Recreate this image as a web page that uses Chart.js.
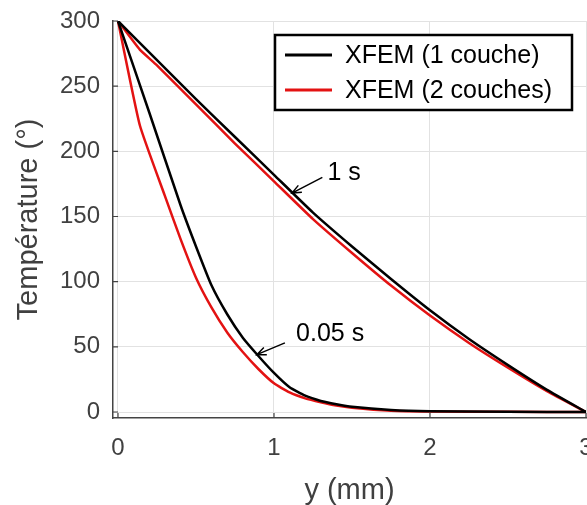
<!DOCTYPE html>
<html>
<head>
<meta charset="utf-8">
<script src="https://cdn.jsdelivr.net/npm/chart.js@4"></script>
<style>
  html, body { margin: 0; padding: 0; background: #fff; overflow: hidden; }
  #wrap { width: 587px; height: 505px; }
</style>
</head>
<body>
<div id="wrap"><canvas id="chart"></canvas></div>
<script>
// y (mm) positions and temperatures
const x1sBlack = [0, 0.25, 0.5, 0.75, 1.0, 1.25, 1.5, 1.75, 2.0, 2.25, 2.5, 2.75, 3];
const t1sBlack = [300, 270, 240, 211, 182, 153, 127, 102, 78, 56, 36, 17, 0];
const x1sRed = [0, 0.14, 0.25, 0.5, 0.75, 1.0, 1.25, 1.5, 1.75, 2.0, 2.25, 2.5, 2.75, 3];
const t1sRed = [300, 278, 266, 236, 206, 177, 148, 122, 97, 74, 53, 34, 16, 0];
const x005Black = [0, 0.2, 0.4, 0.5, 0.6, 0.7, 0.8, 0.9, 1.0, 1.1, 1.2, 1.3, 1.4, 1.5, 1.75, 2.0, 2.5, 3];
const t005Black = [300, 230, 159, 127, 97, 75, 57, 43, 30, 19, 12.5, 8.5, 6, 4, 1.6, 0.6, 0.1, 0];
const x005Red = [0, 0.14, 0.3, 0.4, 0.5, 0.6, 0.7, 0.8, 0.9, 1.0, 1.1, 1.2, 1.3, 1.4, 1.5, 1.75, 2.0, 2.5, 3];
const t005Red = [300, 220, 166, 133, 103, 80, 61, 46, 33, 22, 15, 10.5, 7.5, 5, 3.3, 1, 0.4, 0.1, 0];

const xTicks = [0, 1, 2, 3];
const yTicks = [0, 50, 100, 150, 200, 250, 300];
const seriesNames = ["XFEM (1 couche)", "XFEM (2 couches)"];
const seriesColors = ["#000000", "#e31212"];

const FONT = "'Liberation Sans', Arial, sans-serif";

function pts(xs, ys) {
  return xs.map((x, i) => ({ x: x, y: ys[i] }));
}

function line(label, data, color) {
  return {
    label: label,
    data: data,
    borderColor: color,
    borderWidth: 2.5,
    pointRadius: 0,
    fill: false,
    tension: 0.15
  };
}

// annotations: label text, label position, arrow tail, arrow tip (data coords)
const notes = [
  { text: "1 s", at: [1.45, 183], from: [1.31, 180], to: [1.115, 168] },
  { text: "0.05 s", at: [1.36, 60], from: [1.07, 53], to: [0.89, 44] }
];

const extras = {
  id: "extras",
  afterDraw(chart) {
    const ctx = chart.ctx;
    const xs = chart.scales.x, ys = chart.scales.y;
    const area = chart.chartArea;
    ctx.save();

    // inward tick marks
    ctx.strokeStyle = "#444";
    ctx.lineWidth = 1.2;
    ctx.beginPath();
    xTicks.forEach(v => {
      const px = xs.getPixelForValue(v);
      ctx.moveTo(px, area.bottom);
      ctx.lineTo(px, area.bottom - 5);
    });
    yTicks.forEach(v => {
      const py = ys.getPixelForValue(v);
      ctx.moveTo(area.left, py);
      ctx.lineTo(area.left + 5, py);
    });
    ctx.stroke();

    ctx.font = "25px " + FONT;
    ctx.fillStyle = "#000";
    ctx.strokeStyle = "#000";
    ctx.lineWidth = 1.5;
    ctx.textAlign = "center";
    ctx.textBaseline = "middle";
    notes.forEach(n => {
      ctx.fillText(n.text, xs.getPixelForValue(n.at[0]), ys.getPixelForValue(n.at[1]));
      const x0 = xs.getPixelForValue(n.from[0]), y0 = ys.getPixelForValue(n.from[1]);
      const x1 = xs.getPixelForValue(n.to[0]), y1 = ys.getPixelForValue(n.to[1]);
      ctx.beginPath();
      ctx.moveTo(x0, y0);
      ctx.lineTo(x1, y1);
      const a = Math.atan2(y1 - y0, x1 - x0);
      const h = 10;
      ctx.moveTo(x1 - h * Math.cos(a - 0.4), y1 - h * Math.sin(a - 0.4));
      ctx.lineTo(x1, y1);
      ctx.lineTo(x1 - h * Math.cos(a + 0.4), y1 - h * Math.sin(a + 0.4));
      ctx.stroke();
    });

    // legend box
    const bx = 275, by = 35, bw = 297, bh = 75;
    ctx.fillStyle = "#fff";
    ctx.fillRect(bx, by, bw, bh);
    ctx.strokeStyle = "#000";
    ctx.lineWidth = 2.5;
    ctx.strokeRect(bx, by, bw, bh);
    ctx.textAlign = "left";
    seriesNames.forEach((name, i) => {
      const yy = by + 20 + i * 35;
      ctx.strokeStyle = seriesColors[i];
      ctx.lineWidth = 3;
      ctx.beginPath();
      ctx.moveTo(285, yy);
      ctx.lineTo(332, yy);
      ctx.stroke();
      ctx.fillStyle = "#000";
      ctx.fillText(name, 345, yy + 1);
    });
    ctx.restore();
  }
};

new Chart(document.getElementById("chart"), {
  type: "line",
  data: {
    datasets: [
      line(seriesNames[0], pts(x1sBlack, t1sBlack), seriesColors[0]),
      line(seriesNames[0], pts(x005Black, t005Black), seriesColors[0]),
      line(seriesNames[1], pts(x1sRed, t1sRed), seriesColors[1]),
      line(seriesNames[1], pts(x005Red, t005Red), seriesColors[1])
    ]
  },
  options: {
    responsive: true,
    maintainAspectRatio: false,
    animation: false,
    layout: { padding: { top: 21, right: 1, left: 0, bottom: 0 } },
    plugins: { legend: { display: false }, tooltip: { enabled: false } },
    scales: {
      x: {
        type: "linear",
        min: -0.032,
        max: 3,
        afterBuildTicks: s => { s.ticks = xTicks.map(v => ({ value: v })); },
        afterFit: s => { s.height = 87; s.paddingLeft = 0; s.paddingRight = 0; },
        grid: { color: "#e2e2e2", lineWidth: 1, drawTicks: false },
        border: { color: "#444", width: 1.5 },
        ticks: { font: { family: FONT, size: 24 }, color: "#404040", padding: 16, maxRotation: 0 },
        title: { display: true, text: "y (mm)", font: { family: FONT, size: 29, lineHeight: 1 }, color: "#404040", padding: { top: 0, bottom: 0 } }
      },
      y: {
        min: -4.6,
        max: 300,
        afterBuildTicks: s => { s.ticks = yTicks.map(v => ({ value: v })); },
        afterFit: s => { s.width = 113; s.paddingTop = 0; s.paddingBottom = 0; },
        grid: { color: "#e2e2e2", lineWidth: 1, drawTicks: false },
        border: { color: "#444", width: 1.5 },
        ticks: { font: { family: FONT, size: 24 }, color: "#404040", padding: 13 },
        title: { display: true, text: "Température (°)", font: { family: FONT, size: 29, lineHeight: 1 }, color: "#404040", padding: { top: 14, bottom: 0 } }
      }
    }
  },
  plugins: [extras]
});
</script>
</body>
</html>
